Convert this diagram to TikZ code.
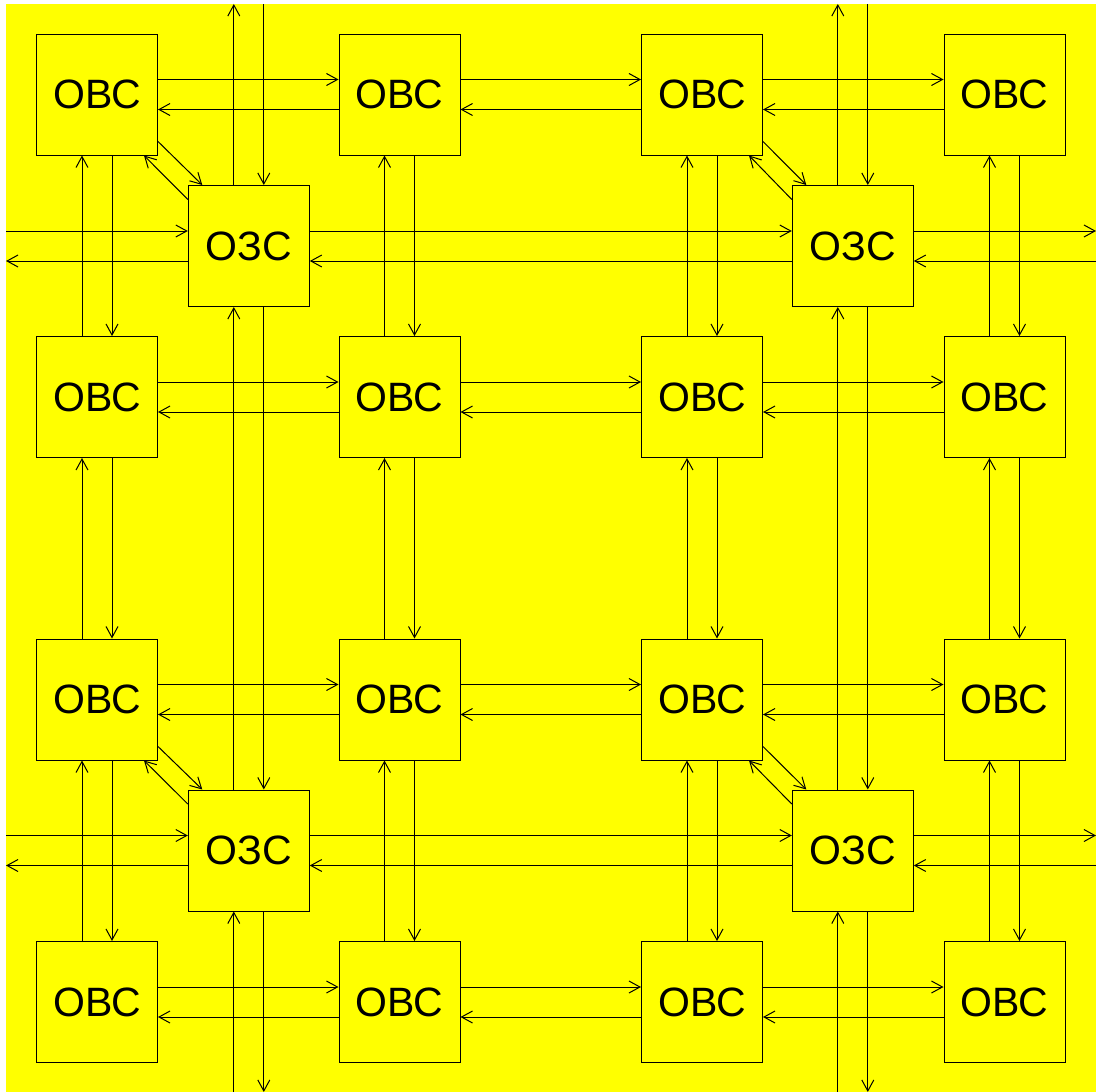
\documentclass[tikz,border=0pt]{standalone}
\usepackage{fontspec}
\setmainfont{Liberation Sans}
\usetikzlibrary{arrows.meta}
\definecolor{bgyellow}{RGB}{255,255,0}
\begin{document}
\begin{tikzpicture}[x=1pt,y=-1pt,
  box/.style={draw,line width=1pt,fill=bgyellow,minimum size=121pt,inner sep=0pt,font=\fontsize{41}{41}\selectfont},
  link/.style={line width=1pt,-{Straight Barb[length=11pt,width=12pt]}}]
\useasboundingbox (0,0) rectangle (1096,1092);
\fill[white] (0,0) rectangle (1096,1092);
\fill[bgyellow] (6,4) rectangle (1096,1092);
% OBC nodes
\foreach \r in {1,...,4}{\foreach \c in {1,...,4}{
  \node[box] (a-\r-\c) at ({97+302.5*(\c-1)},{94.5+302.5*(\r-1)}) {ОВС};}}
% O3C nodes
\foreach \r in {1,2}{\foreach \c in {1,2}{
  \node[box] (z-\r-\c) at ({248.8+604*(\c-1)},{246+604.5*(\r-1)}) {ОЗС};}}
% border coordinates
\foreach \c in {1,2}{
  \coordinate (tu-\c) at ({248.8+604*(\c-1)-15},4);
  \coordinate (td-\c) at ({248.8+604*(\c-1)+15},4);
  \coordinate (bu-\c) at ({248.8+604*(\c-1)-15},1092);
  \coordinate (bd-\c) at ({248.8+604*(\c-1)+15},1092);}
\foreach \r in {1,2}{
  \coordinate (lr-\r) at (6,{246+604.5*(\r-1)-15});
  \coordinate (ll-\r) at (6,{246+604.5*(\r-1)+15});
  \coordinate (rr-\r) at (1096,{246+604.5*(\r-1)-15});
  \coordinate (rl-\r) at (1096,{246+604.5*(\r-1)+15});}
% OBC horizontal links
\foreach \r in {1,...,4}{\foreach \c in {1,2,3}{
  \pgfmathtruncatemacro{\n}{\c+1}
  \draw[link] ([yshift=15pt]a-\r-\c.east) -- ([yshift=15pt]a-\r-\n.west);
  \draw[link] ([yshift=-15pt]a-\r-\n.west) -- ([yshift=-15pt]a-\r-\c.east);}}
% OBC vertical links
\foreach \c in {1,...,4}{\foreach \r in {1,2,3}{
  \pgfmathtruncatemacro{\n}{\r+1}
  \draw[link] ([xshift=-15pt]a-\n-\c.north) -- ([xshift=-15pt]a-\r-\c.south);
  \draw[link] ([xshift=15pt]a-\r-\c.south) -- ([xshift=15pt]a-\n-\c.north);}}
% O3C vertical links
\foreach \c in {1,2}{
  \draw[link] ([xshift=-15pt]z-1-\c.north) -- (tu-\c);
  \draw[link] (td-\c) -- ([xshift=15pt]z-1-\c.north);
  \draw[link] ([xshift=-15pt]z-2-\c.north) -- ([xshift=-15pt]z-1-\c.south);
  \draw[link] ([xshift=15pt]z-1-\c.south) -- ([xshift=15pt]z-2-\c.north);
  \draw[link] (bu-\c) -- ([xshift=-15pt]z-2-\c.south);
  \draw[link] ([xshift=15pt]z-2-\c.south) -- (bd-\c);}
% O3C horizontal links
\foreach \r in {1,2}{
  \draw[link] (lr-\r) -- ([yshift=15pt]z-\r-1.west);
  \draw[link] ([yshift=-15pt]z-\r-1.west) -- (ll-\r);
  \draw[link] ([yshift=15pt]z-\r-1.east) -- ([yshift=15pt]z-\r-2.west);
  \draw[link] ([yshift=-15pt]z-\r-2.west) -- ([yshift=-15pt]z-\r-1.east);
  \draw[link] ([yshift=15pt]z-\r-2.east) -- (rr-\r);
  \draw[link] (rl-\r) -- ([yshift=-15pt]z-\r-2.east);}
% diagonal links OBC <-> O3C
\foreach \r in {1,2}{\foreach \c in {1,2}{
  \pgfmathtruncatemacro{\ar}{2*\r-1}
  \pgfmathtruncatemacro{\ac}{2*\c-1}
  \draw[link] ([yshift=14pt]a-\ar-\ac.south east) -- ([xshift=14.5pt]z-\r-\c.north west);
  \draw[link] ([yshift=-14.5pt]z-\r-\c.north west) -- ([xshift=-14pt]a-\ar-\ac.south east);}}
\end{tikzpicture}
\end{document}
